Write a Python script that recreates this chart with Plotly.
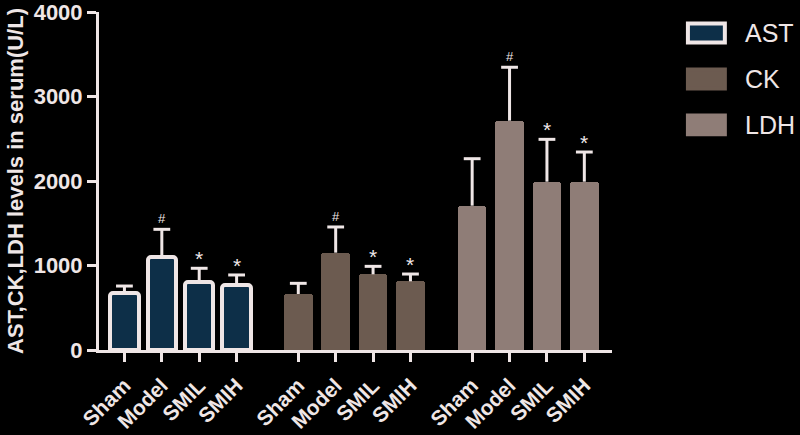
import plotly.graph_objects as go

groups = ["AST", "CK", "LDH"]
conditions = ["Sham", "Model", "SMIL", "SMIH"]
ast_mean = [675, 1100, 805, 770]
ast_err = [82, 328, 162, 118]
ck_mean = [663, 1152, 896, 813]
ck_err = [126, 304, 94, 86]
ldh_mean = [1708, 2714, 1992, 1992]
ldh_err = [556, 632, 501, 351]
marks = ["", "#", "*", "*"]
yticks = [0, 1000, 2000, 3000, 4000]

light = "#efe6e6"
fills = {"AST": "#0d2f48", "CK": "#6c5b50", "LDH": "#8f7d77"}
means = {"AST": ast_mean, "CK": ck_mean, "LDH": ldh_mean}
errs = {"AST": ast_err, "CK": ck_err, "LDH": ldh_err}
font = "Liberation Sans, Arial, sans-serif"

group_step = 4.65
fig = go.Figure()
tickvals, ticktext = [], []
for gi, g in enumerate(groups):
    xs = [gi * group_step + i for i in range(len(conditions))]
    tickvals += xs
    ticktext += conditions
    fig.add_trace(go.Bar(
        x=xs, y=means[g], width=0.76, name=g,
        marker=dict(color=fills[g],
                    line=dict(color=light if g == "AST" else fills[g], width=4 if g == "AST" else 0),
                    cornerradius=3),
        showlegend=False,
    ))
    ex, ey = [], []
    tops = []
    for i in range(len(conditions)):
        top = means[g][i] + errs[g][i]
        tops.append(top)
        ex += [xs[i], xs[i], None]
        ey += [means[g][i], top, None]
    fig.add_trace(go.Scatter(x=ex, y=ey, mode="lines", line=dict(color=light, width=3),
                             showlegend=False, hoverinfo="skip"))
    fig.add_trace(go.Scatter(x=xs, y=tops, mode="markers",
                             marker=dict(symbol="line-ew", size=12, line=dict(color=light, width=3)),
                             showlegend=False, hoverinfo="skip"))
    for i, m in enumerate(marks):
        if m:
            fig.add_annotation(x=xs[i], y=tops[i], text=m, showarrow=False,
                               yanchor="bottom", yshift=-4 if m == "*" else 1,
                               font=dict(family=font, size=21 if m == "*" else 13, color=light))

# custom legend
legend_y = [0.938, 0.802, 0.666]
for k, g in enumerate(groups):
    y0 = legend_y[k]
    fig.add_shape(type="rect", xref="paper", yref="paper",
                  x0=1.148, x1=1.220, y0=y0 - 0.028, y1=y0 + 0.028,
                  fillcolor=fills[g], line=dict(color=light if g == "AST" else fills[g], width=4))
    fig.add_annotation(xref="paper", yref="paper", x=1.256, y=y0, text=g, showarrow=False,
                       xanchor="left", yanchor="middle",
                       font=dict(family=font, size=25, color=light))

fig.update_layout(
    width=800, height=435,
    paper_bgcolor="black", plot_bgcolor="black",
    margin=dict(l=99, r=188, t=12, b=85),
    bargap=0,
    font=dict(family=font, color=light),
)
fig.update_xaxes(range=[-0.68, 13.04], tickvals=tickvals, ticktext=ticktext, tickangle=-45,
                 automargin=False, ticklabelstandoff=3,
                 showgrid=False, zeroline=False, showline=True, linecolor=light, linewidth=3,
                 ticks="outside", ticklen=9, tickwidth=3, tickcolor=light,
                 tickfont=dict(family=font, size=21, color=light, weight="bold"))
fig.update_yaxes(range=[0, 4000], tickvals=yticks, showgrid=False, zeroline=False,
                 automargin=False,
                 showline=True, linecolor=light, linewidth=3, ticklabeloverflow="allow",
                 ticks="outside", ticklen=9, tickwidth=3, tickcolor=light,
                 tickfont=dict(family=font, size=22, color=light, weight="bold"),
                 title=dict(text="AST,CK,LDH levels in serum(U/L)", standoff=4,
                            font=dict(family=font, size=22, color=light, weight="bold")))

fig.write_html("out.html", config={"displayModeBar": False},
               post_script="document.body.style.margin='0';document.body.style.background='black';")
